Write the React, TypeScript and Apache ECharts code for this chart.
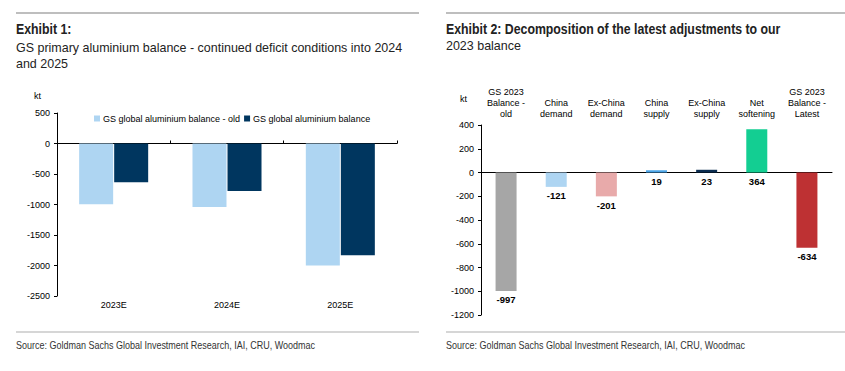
import React, { useEffect, useRef } from "react";
import * as echarts from "echarts";

const leftCategories = ["2023E", "2024E", "2025E"];
const leftOld = [-997, -1040, -2000];
const leftNew = [-634, -780, -1830];
const leftSeriesNames = ["GS global aluminium balance - old", "GS global aluminium balance"];

const rightCategories = [
  "GS 2023\nBalance -\nold",
  "China\ndemand",
  "Ex-China\ndemand",
  "China\nsupply",
  "Ex-China\nsupply",
  "Net\nsoftening",
  "GS 2023\nBalance -\nLatest",
];
const rightValues = [-997, -121, -201, 19, 23, 364, -634];
const rightColors = ["#A6A6A6", "#AED5F2", "#E8AAAA", "#4DA6E8", "#0B2D50", "#13CE92", "#BE3133"];

const SANS = "'Liberation Sans', Arial, sans-serif";

export default function App() {
  const ref = useRef<HTMLDivElement>(null);
  useEffect(() => {
    if (!ref.current) return;
    const chart = echarts.init(ref.current, null, { renderer: "svg" });
    const axisText = { color: "#000", fontSize: 9, fontFamily: SANS };
    const plain = (v: number) => String(v);
    const option: any = {
      animation: false,
      backgroundColor: "#fff",
      legend: {
        left: 94,
        top: 114,
        padding: 0,
        itemWidth: 6,
        itemHeight: 6,
        itemGap: 4,
        icon: "rect",
        data: leftSeriesNames,
        textStyle: { color: "#000", fontSize: 9, fontFamily: SANS, padding: [0, 0, 0, -2] },
      },
      grid: [
        { left: 57, right: 448, top: 113, bottom: 75, outerBoundsMode: "none", containLabel: false },
        { left: 481, right: 13, top: 125, bottom: 56, outerBoundsMode: "none", containLabel: false },
      ],
      xAxis: [
        {
          type: "category",
          gridIndex: 0,
          data: leftCategories,
          position: "bottom",
          axisLine: { onZero: true, lineStyle: { color: "#000", width: 1 } },
          axisTick: { show: true, inside: true, length: 3, lineStyle: { color: "#000" } },
          axisLabel: { ...axisText, margin: 4 },
        },
        {
          type: "category",
          gridIndex: 1,
          data: rightCategories,
          position: "top",
          axisLine: { onZero: true, lineStyle: { color: "#000", width: 1 } },
          axisTick: { show: false },
          axisLabel: { ...axisText, margin: 6, lineHeight: 11, align: "center" },
        },
      ],
      yAxis: [
        {
          type: "value",
          gridIndex: 0,
          min: -2500,
          max: 500,
          interval: 500,
          axisLine: { show: true, lineStyle: { color: "#000" } },
          axisTick: { show: true, length: 3, lineStyle: { color: "#000" } },
          splitLine: { show: false },
          axisLabel: { ...axisText, margin: 7, formatter: plain },
        },
        {
          type: "value",
          gridIndex: 1,
          min: -1200,
          max: 400,
          interval: 200,
          axisLine: { show: true, lineStyle: { color: "#000" } },
          axisTick: { show: true, length: 3, lineStyle: { color: "#000" } },
          splitLine: { show: false },
          axisLabel: { ...axisText, margin: 7, formatter: plain },
        },
      ],
      series: [
        {
          name: leftSeriesNames[0],
          type: "bar",
          xAxisIndex: 0,
          yAxisIndex: 0,
          data: leftOld,
          barWidth: 34,
          barGap: "3%",
          itemStyle: { color: "#AED5F2" },
        },
        {
          name: leftSeriesNames[1],
          type: "bar",
          xAxisIndex: 0,
          yAxisIndex: 0,
          data: leftNew,
          barWidth: 34,
          barGap: "3%",
          itemStyle: { color: "#00365F" },
        },
        {
          name: "decomp",
          type: "bar",
          xAxisIndex: 1,
          yAxisIndex: 1,
          barWidth: 21,
          data: rightValues.map((v, i) => ({ value: v, itemStyle: { color: rightColors[i] } })),
          label: {
            show: true,
            position: "bottom",
            distance: 4,
            color: "#000",
            fontWeight: "bold",
            fontSize: 9.5,
            fontFamily: SANS,
            formatter: (p: any) => String(p.value),
          },
        },
      ],
      graphic: [
        { type: "line", shape: { x1: 16, y1: 13, x2: 419, y2: 13 }, style: { stroke: "#A8A8A8", lineWidth: 1.5 } },
        { type: "line", shape: { x1: 446, y1: 13, x2: 845, y2: 13 }, style: { stroke: "#A8A8A8", lineWidth: 1.5 } },
        { type: "line", shape: { x1: 16, y1: 332, x2: 419, y2: 332 }, style: { stroke: "#C8C8C8", lineWidth: 1.5 } },
        { type: "line", shape: { x1: 446, y1: 332, x2: 845, y2: 332 }, style: { stroke: "#C8C8C8", lineWidth: 1.5 } },
        {
          type: "text", x: 16, y: 22, scaleX: 0.88,
          style: { text: "Exhibit 1:", fill: "#222", font: `bold 14px ${SANS}` },
        },
        {
          type: "text", x: 16, y: 39, scaleX: 0.96,
          style: {
            text: "GS primary aluminium balance - continued deficit conditions into 2024\nand 2025",
            fill: "#222", font: `13px ${SANS}`, lineHeight: 16,
          },
        },
        {
          type: "text", x: 446, y: 22, scaleX: 0.88,
          style: { text: "Exhibit 2: Decomposition of the latest adjustments to our", fill: "#222", font: `bold 14px ${SANS}` },
        },
        {
          type: "text", x: 446, y: 39, scaleX: 0.96,
          style: { text: "2023 balance", fill: "#222", font: `13px ${SANS}` },
        },
        { type: "text", x: 34, y: 91, style: { text: "kt", fill: "#000", font: `9px ${SANS}` } },
        { type: "text", x: 460, y: 94, style: { text: "kt", fill: "#000", font: `9px ${SANS}` } },
        {
          type: "text", x: 16, y: 340, scaleX: 0.9,
          style: { text: "Source: Goldman Sachs Global Investment Research, IAI, CRU, Woodmac", fill: "#333", font: `10px ${SANS}` },
        },
        {
          type: "text", x: 446, y: 340, scaleX: 0.9,
          style: { text: "Source: Goldman Sachs Global Investment Research, IAI, CRU, Woodmac", fill: "#333", font: `10px ${SANS}` },
        },
      ],
    };
    chart.setOption(option);
    return () => chart.dispose();
  }, []);
  return (
    <div
      ref={ref}
      style={{ position: "absolute", left: 0, top: 0, width: 845, height: 371, background: "#fff" }}
    />
  );
}
